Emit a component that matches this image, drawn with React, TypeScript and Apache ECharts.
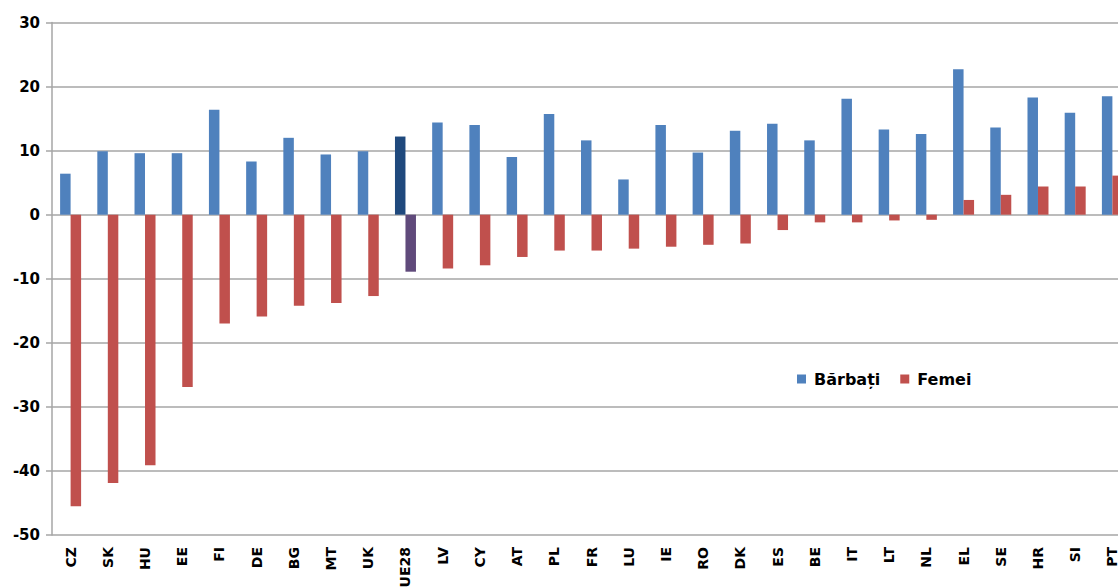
import React, { useEffect, useRef } from "react";
import * as echarts from "echarts";

const categories = ["CZ","SK","HU","EE","FI","DE","BG","MT","UK","UE28","LV","CY","AT","PL","FR","LU","IE","RO","DK","ES","BE","IT","LT","NL","EL","SE","HR","SI","PT"];
const barbati = [6.4, 9.9, 9.6, 9.6, 16.4, 8.3, 12.0, 9.4, 9.9, 12.2, 14.4, 14.0, 9.0, 15.7, 11.6, 5.5, 14.0, 9.7, 13.1, 14.2, 11.6, 18.1, 13.3, 12.6, 22.7, 13.6, 18.3, 15.9, 18.5];
const femei = [-45.5, -41.9, -39.1, -26.9, -17.0, -15.9, -14.2, -13.8, -12.7, -8.9, -8.4, -7.9, -6.6, -5.6, -5.6, -5.3, -5.0, -4.7, -4.5, -2.4, -1.2, -1.2, -0.9, -0.8, 2.3, 3.1, 4.4, 4.4, 6.1];
const yTicks = { min: -50, max: 30, interval: 10 };
const highlight = "UE28";

const BLUE = "#4F81BD";
const RED = "#C0504D";
const BLUE_HL = "#1F497D";
const RED_HL = "#604A7B";

export default function App() {
  const ref = useRef<HTMLDivElement>(null);
  useEffect(() => {
    if (!ref.current) return;
    const chart = echarts.init(ref.current, undefined, { renderer: "svg" });
    const font = "'DejaVu Sans', Verdana, sans-serif";
    chart.setOption({
      animation: false,
      textStyle: { fontFamily: font },
      legend: {
        left: 792,
        top: 366,
        icon: "rect",
        itemWidth: 9,
        itemHeight: 9,
        itemGap: 20,
        textStyle: { fontFamily: font, fontWeight: "bold", fontSize: 16, color: "#000", padding: [0, 0, 0, 3] },
        data: ["Bărbați", "Femei"],
      },
      grid: { left: 52, top: 22.5, width: 1079, height: 512.5, containLabel: false, outerBoundsMode: "none" },
      xAxis: {
        type: "category",
        data: categories,
        axisLine: { show: false, onZero: false },
        axisTick: { show: false },
        axisLabel: { rotate: 90, fontWeight: "bold", fontSize: 14, color: "#000", margin: 12, fontFamily: font },
      },
      yAxis: {
        type: "value",
        min: yTicks.min,
        max: yTicks.max,
        interval: yTicks.interval,
        axisLine: { show: true, lineStyle: { color: "#a6a6a6", width: 1.5 } },
        axisTick: { show: true, length: 6, lineStyle: { color: "#a6a6a6", width: 1.5 } },
        splitLine: { show: true, lineStyle: { color: "#a6a6a6", width: 1.5 } },
        axisLabel: { fontWeight: "bold", fontSize: 15, color: "#000", margin: 12, fontFamily: font },
      },
      series: [
        {
          name: "Bărbați",
          type: "bar",
          barWidth: 10.5,
          barGap: "0%",
          itemStyle: { color: BLUE },
          data: barbati.map((v, i) =>
            categories[i] === highlight ? { value: v, itemStyle: { color: BLUE_HL } } : v
          ),
        },
        {
          name: "Femei",
          type: "bar",
          barWidth: 10.5,
          barGap: "0%",
          itemStyle: { color: RED },
          data: femei.map((v, i) =>
            categories[i] === highlight ? { value: v, itemStyle: { color: RED_HL } } : v
          ),
        },
      ],
    });
    return () => chart.dispose();
  }, []);
  return (
    <div
      ref={ref}
      style={{ position: "absolute", left: 0, top: 0, width: 1118, height: 588, background: "#fff" }}
    />
  );
}
